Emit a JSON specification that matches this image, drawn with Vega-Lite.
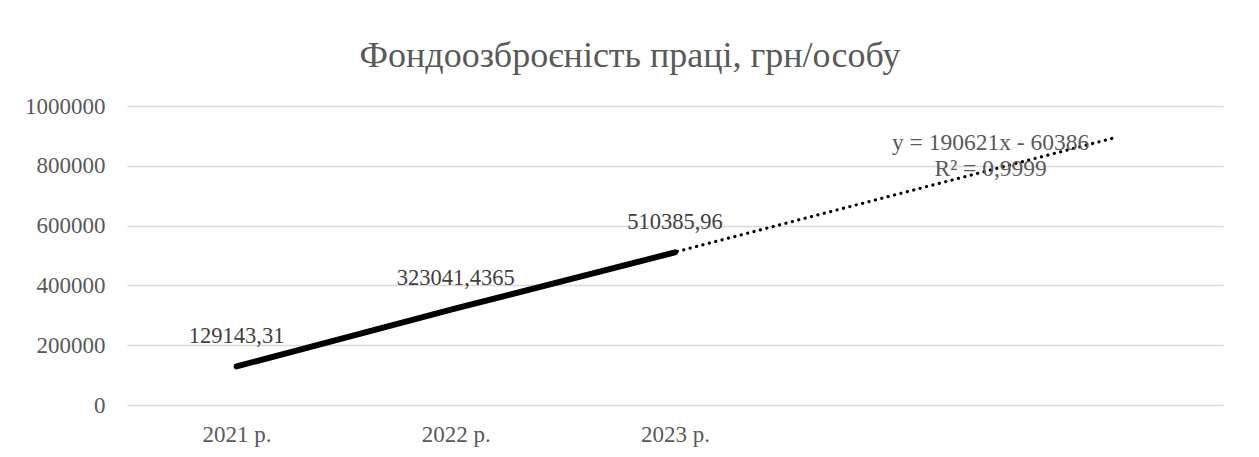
{
  "$schema": "https://vega.github.io/schema/vega-lite/v6.json",
  "width": 1096,
  "height": 299,
  "autosize": {"type": "none"},
  "padding": {"left": 127, "top": 106, "right": 36, "bottom": 52},
  "background": "white",
  "config": {
    "view": {"stroke": null},
    "font": "Liberation Serif"
  },
  "title": {
    "text": "Фондоозброєність праці, грн/особу",
    "font": "Liberation Serif",
    "fontSize": 36,
    "fontWeight": "normal",
    "color": "#595959",
    "anchor": "middle",
    "dx": -45,
    "offset": 20
  },
  "datasets": {
    "main": [
      {"x": 1, "year": "2021 р.", "value": 129143.31, "label": "129143,31"},
      {"x": 2, "year": "2022 р.", "value": 323041.4365, "label": "323041,4365"},
      {"x": 3, "year": "2023 р.", "value": 510385.96, "label": "510385,96"}
    ],
    "eq": [
      {"x": 4.44, "y": 876000, "text": "y = 190621x  - 60386"},
      {"x": 4.44, "y": 790000, "text": "R² = 0,9999"}
    ]
  },
  "data": {"name": "main"},
  "encoding": {
    "x": {
      "field": "x",
      "type": "quantitative",
      "scale": {"domain": [0.5, 5.5], "nice": false, "zero": false},
      "axis": {
        "values": [1, 2, 3],
        "labelExpr": "datum.value == 1 ? '2021 р.' : datum.value == 2 ? '2022 р.' : '2023 р.'",
        "title": null,
        "grid": false,
        "domain": false,
        "ticks": false,
        "labelFont": "Liberation Serif",
        "labelFontSize": 23,
        "labelColor": "#595959",
        "labelPadding": 18
      }
    },
    "y": {
      "field": "value",
      "type": "quantitative",
      "scale": {"domain": [0, 1000000], "nice": false},
      "axis": {
        "values": [0, 200000, 400000, 600000, 800000, 1000000],
        "format": "d",
        "title": null,
        "domain": false,
        "ticks": false,
        "grid": true,
        "gridColor": "#d9d9d9",
        "gridWidth": 1.5,
        "labelFont": "Liberation Serif",
        "labelFontSize": 23,
        "labelColor": "#595959",
        "labelPadding": 22
      }
    }
  },
  "layer": [
    {
      "transform": [
        {"regression": "value", "on": "x", "extent": [1, 5], "method": "linear"}
      ],
      "mark": {"type": "line", "color": "black", "strokeWidth": 3.2, "strokeDash": [0.1, 6.5], "strokeCap": "round"},
      "encoding": {}
    },
    {
      "mark": {"type": "line", "color": "black", "strokeWidth": 6, "strokeCap": "round"},
      "encoding": {}
    },
    {
      "mark": {"type": "text", "font": "Liberation Serif", "fontSize": 22.5, "color": "#404040", "baseline": "middle", "dy": -30},
      "encoding": {"text": {"field": "label"}}
    },
    {
      "data": {"name": "eq"},
      "mark": {"type": "text", "font": "Liberation Serif", "fontSize": 23.5, "color": "#595959", "baseline": "middle"},
      "encoding": {
        "x": {"field": "x", "type": "quantitative"},
        "y": {"field": "y", "type": "quantitative"},
        "text": {"field": "text"}
      }
    }
  ]
}
